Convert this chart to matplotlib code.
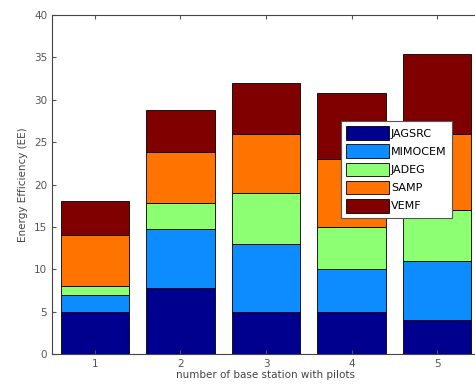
import numpy as np
import matplotlib.pyplot as plt

stations = [1, 2, 3, 4, 5]
jagsrc = [5, 7.8, 5, 5, 4]
mimocem = [2, 7, 8, 5, 7]
jadeg = [1, 3, 6, 5, 6]
samp = [6, 6, 7, 8, 9]
vemf = [4, 5, 6, 7.8, 9.4]

series = [jagsrc, mimocem, jadeg, samp, vemf]
names = ['JAGSRC', 'MIMOCEM', 'JADEG', 'SAMP', 'VEMF']
colors = [(0, 0, 0.56), (0.05, 0.55, 1), (0.55, 1, 0.45), (1, 0.45, 0), (0.5, 0, 0)]

fig = plt.figure(figsize=(4.75, 3.91), dpi=100)
ax = fig.add_axes([0.1095, 0.0946, 0.901, 0.867])

bottom = np.zeros(len(stations))
for vals, name, c in zip(series, names, colors):
    ax.bar(stations, vals, 0.8, bottom=bottom, color=c, edgecolor='k', linewidth=0.6, label=name)
    bottom += np.array(vals)

ax.set_xlim(0.5, 5.5)
ax.set_ylim(0, 40)
ax.set_yticks(np.arange(0, 41, 5))
ax.set_xticks(stations)
ax.tick_params(direction='in', top=True, right=True, labelsize=7.5, colors='#555555', length=3)
for s in ax.spines.values():
    s.set_color('#444444')
    s.set_linewidth(0.8)
ax.set_xlabel('number of base station with pilots', fontsize=7.5, color='#444444', labelpad=1)
ax.set_ylabel('Energy Efficiency (EE)', fontsize=7.5, color='#444444', labelpad=4)

leg = ax.legend(loc='upper left', bbox_to_anchor=(0.662, 0.705), fontsize=8, fancybox=False,
                framealpha=1, edgecolor='#555555', handlelength=3.8, handleheight=1.5,
                handletextpad=0.2, labelspacing=0.42, borderpad=0.5)
leg.get_frame().set_linewidth(0.8)

plt.savefig('out.png', dpi=100)
